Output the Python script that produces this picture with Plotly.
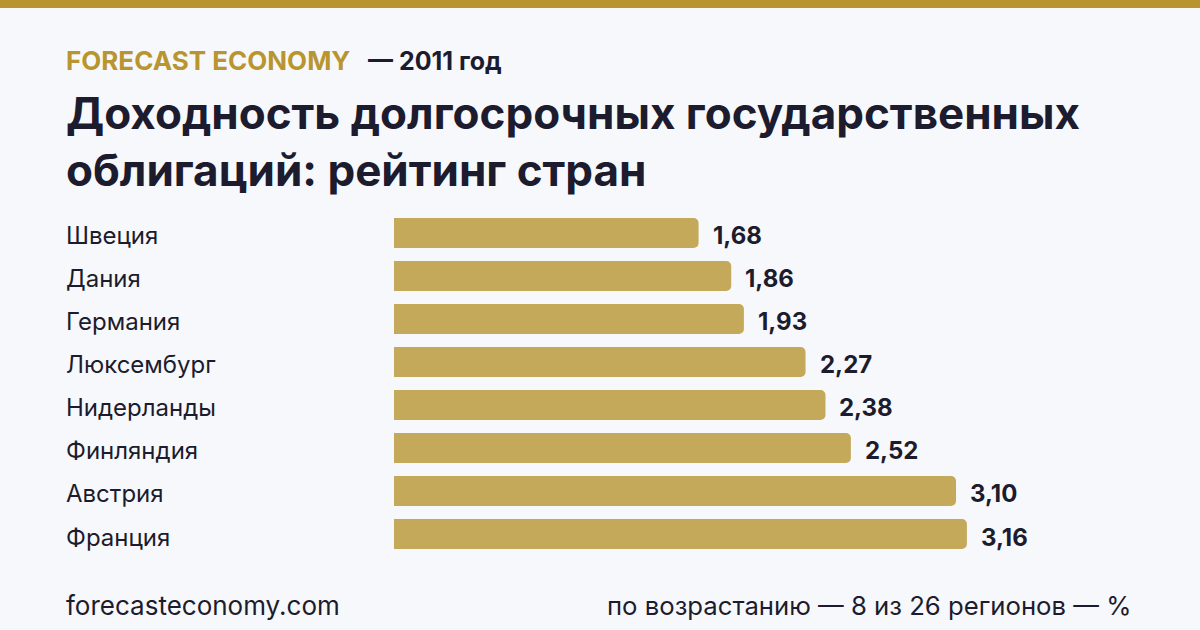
import plotly.graph_objects as go

countries = ["Швеция", "Дания", "Германия", "Люксембург",
             "Нидерланды", "Финляндия", "Австрия", "Франция"]
yields = [1.68, 1.86, 1.93, 2.27, 2.38, 2.52, 3.10, 3.16]
value_labels = ["1,68", "1,86", "1,93", "2,27", "2,38", "2,52", "3,10", "3,16"]

BG = "#f7f8fc"
GOLD = "#c4a95b"
DARK = "#1c1c2e"
FONT = "Inter"

fig = go.Figure()
fig.add_trace(go.Bar(
    x=yields,
    y=countries,
    orientation="h",
    marker=dict(color=GOLD, cornerradius=5, line=dict(width=0)),
    hoverinfo="skip",
))

# country names, left aligned
for c in countries:
    fig.add_annotation(x=64 / 1200, xref="paper", y=c, yref="y",
                       text=c, showarrow=False, xanchor="left", yshift=-3,
                       font=dict(family=FONT, size=24, color=DARK))

# values after the bar end
for c, v, t in zip(countries, yields, value_labels):
    fig.add_annotation(x=v, xref="x", y=c, yref="y", text="<b>" + t + "</b>",
                       showarrow=False, xanchor="left", xshift=12, yshift=-3,
                       font=dict(family=FONT, size=24, color=DARK))

# header
fig.add_annotation(x=64 / 1200, y=1 - 61 / 630, xref="paper", yref="paper",
                   text="<b>FORECAST ECONOMY</b>", showarrow=False,
                   xanchor="left", yanchor="middle",
                   font=dict(family=FONT, size=26, color="#b8952f"))
fig.add_annotation(x=366 / 1200, y=1 - 61 / 630, xref="paper", yref="paper",
                   text="<b>— 2011 год</b>", showarrow=False,
                   xanchor="left", yanchor="middle",
                   font=dict(family=FONT, size=25, color=DARK))
fig.add_annotation(x=64 / 1200, y=1 - 141 / 630, xref="paper", yref="paper",
                   text="<b>Доходность долгосрочных государственных<br>облигаций: рейтинг стран</b>",
                   showarrow=False, xanchor="left", yanchor="middle", align="left",
                   font=dict(family=FONT, size=44, color=DARK))

# footer
fig.add_annotation(x=64 / 1200, y=1 - 605 / 630, xref="paper", yref="paper",
                   text="forecasteconomy.com", showarrow=False,
                   xanchor="left", yanchor="middle",
                   font=dict(family=FONT, size=26, color=DARK))
fig.add_annotation(x=1133 / 1200, y=1 - 605 / 630, xref="paper", yref="paper",
                   text="по возрастанию — 8 из 26 регионов — %", showarrow=False,
                   xanchor="right", yanchor="middle",
                   font=dict(family=FONT, size=25.7, color=DARK))

# gold strip on top
fig.add_shape(type="rect", xref="paper", yref="paper",
              x0=0, x1=1, y0=1 - 8 / 630, y1=1,
              fillcolor="#b8952f", line=dict(width=0))

fig.update_layout(
    width=1200, height=630,
    margin=dict(l=0, r=0, t=0, b=0),
    paper_bgcolor=BG, plot_bgcolor=BG,
    showlegend=False,
    bargap=0.3,
    xaxis=dict(domain=[394 / 1200, 1], range=[0, 806 / 181.3],
               visible=False, fixedrange=True),
    yaxis=dict(domain=[1 - 555.5 / 630, 1 - 211.5 / 630],
               autorange="reversed", visible=False, fixedrange=True),
)

# page body has a default margin, drop it so the figure fills the window
fig.write_html("out.html", config={"displayModeBar": False},
               post_script="document.body.style.margin='0';")
